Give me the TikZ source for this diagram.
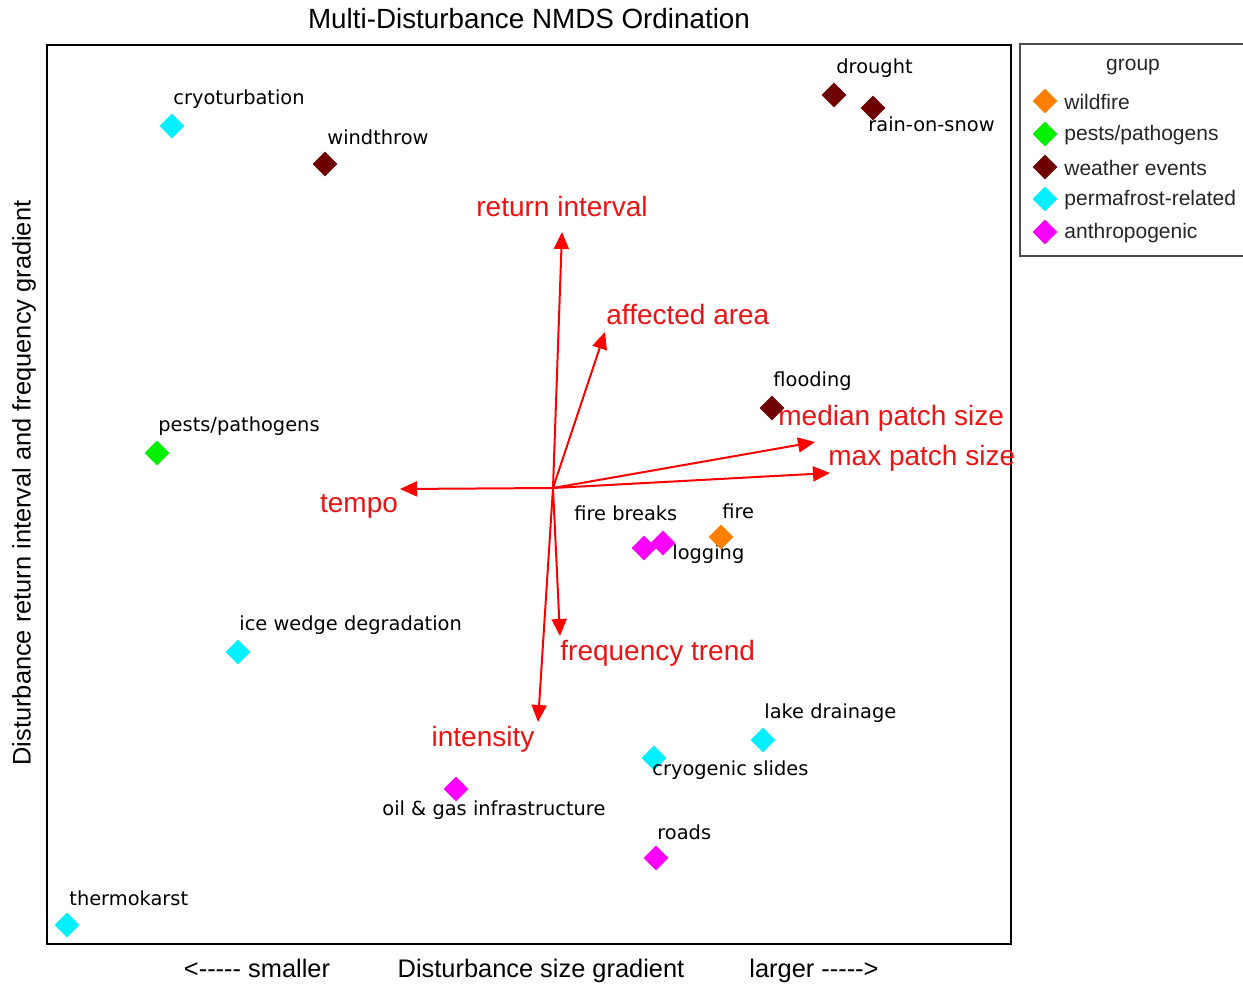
\documentclass[tikz,border=0pt]{standalone}
\usepackage{fontspec}
\setmainfont{Liberation Sans}
\newfontfamily\pix{DejaVu Sans}
\usetikzlibrary{shapes.geometric,arrows.meta}
\definecolor{cwild}{RGB}{255,128,0}
\definecolor{cpest}{RGB}{0,240,0}
\definecolor{cweat}{RGB}{110,0,0}
\definecolor{cperm}{RGB}{0,240,255}
\definecolor{canth}{RGB}{255,0,255}
\definecolor{vred}{RGB}{235,20,20}
\tikzset{
  pt/.style={diamond,fill=#1,draw=none,inner sep=0pt,minimum size=12.5pt},
  plab/.style={font=\pix\fontsize{9.7}{10}\selectfont,anchor=west,inner sep=0pt},
  vec/.style={draw=red,line width=1pt,-{Triangle[length=8.5pt,width=7.5pt]}},
  vlab/.style={font=\fontsize{14}{15}\selectfont,text=vred,inner sep=0pt},
  axlab/.style={font=\fontsize{12.7}{14}\selectfont,inner sep=0pt},
  leglab/.style={font=\fontsize{10.5}{12}\selectfont,anchor=west,inner sep=0pt,text=black!85}
}
\begin{document}
\begin{tikzpicture}[x=0.5pt,y=-0.5pt]
\useasboundingbox (0,0) rectangle (1243,984);
\fill[white] (0,0) rectangle (1243,984);
% title and axes labels
\node[axlab,font=\fontsize{13.9}{15}\selectfont] (title) at (529,19) {Multi-Disturbance NMDS Ordination};
\node[axlab,anchor=base] (xl1) at (257,977) {<-{}-{}-{}-{}- smaller};
\node[axlab,anchor=base] (xl2) at (541,977) {Disturbance size gradient};
\node[axlab,anchor=base] (xl3) at (814,977) {larger -{}-{}-{}-{}->};
\node[axlab,rotate=90] (yl) at (24,483) {Disturbance return interval and frequency gradient};
% frame
\draw[line width=1pt] (47,45) rectangle (1011,944);
% vectors
\coordinate (o) at (553,488);
\coordinate (eRI) at (562,232);
\coordinate (eAA) at (605,332);
\coordinate (eMed) at (815,442);
\coordinate (eMax) at (830,473);
\coordinate (eTe) at (400,489);
\coordinate (eFT) at (560,636);
\coordinate (eIn) at (538,722);
\draw[vec] (o) -- (eRI);
\draw[vec] (o) -- (eAA);
\draw[vec] (o) -- (eMed);
\draw[vec] (o) -- (eMax);
\draw[vec] (o) -- (eTe);
\draw[vec] (o) -- (eFT);
\draw[vec] (o) -- (eIn);
\node[vlab] (lRI) at (562,206) {return interval};
\node[vlab,anchor=west] (lAA) at (606,314) {affected area};
\node[vlab,anchor=west] (lMed) at (778,418) {median patch size};
\node[vlab,anchor=west] (lMax) at (828,458) {max patch size};
\node[vlab] (lTe) at (359,506) {tempo};
\node[vlab,anchor=west] (lFT) at (560,653) {frequency trend};
\node[vlab] (lIn) at (483,739) {intensity};
% points
\node[pt=cperm] (p1) at (172,126) {};
\node[plab] (t1) at (173,99) {cryoturbation};
\node[pt=cweat] (p2) at (325,164) {};
\node[plab] (t2) at (327,137) {windthrow};
\node[pt=cweat] (p3) at (834,95) {};
\node[plab] (t3) at (836,68) {drought};
\node[pt=cweat] (p4) at (873,108) {};
\node[plab] (t4) at (868,124) {rain-on-snow};
\node[pt=cweat] (p5) at (772,408) {};
\node[plab] (t5) at (773,381) {flooding};
\node[pt=cpest] (p6) at (157,453) {};
\node[plab] (t6) at (158,426) {pests/pathogens};
\node[pt=canth] (p7) at (644,548) {};
\node[plab] (t7) at (574,513) {fire breaks};
\node[pt=canth] (p8) at (663,543) {};
\node[plab] (t8) at (672,554) {logging};
\node[pt=cwild] (p9) at (721,537) {};
\node[plab] (t9) at (722,511) {fire};
\node[pt=cperm] (p10) at (238,652) {};
\node[plab] (t10) at (239,625) {ice wedge degradation};
\node[pt=cperm] (p11) at (763,740) {};
\node[plab] (t11) at (764,713) {lake drainage};
\node[pt=cperm] (p12) at (654,758) {};
\node[plab] (t12) at (652,770) {cryogenic slides};
\node[pt=canth] (p13) at (456,789) {};
\node[plab] (t13) at (382,810) {oil \& gas infrastructure};
\node[pt=canth] (p14) at (656,858) {};
\node[plab] (t14) at (657,832) {roads};
\begin{scope}
\clip (47,45) rectangle (1011,944);
\node[pt=cperm] (p15) at (67,925) {};
\end{scope}
\node[plab] (t15) at (69,898) {thermokarst};
% legend
\draw[black!70,line width=0.6pt] (1243,44) -- (1020,44) -- (1020,256) -- (1243,256);
\node[leglab,anchor=center] (lg) at (1133,67) {group};
\node[pt=cwild] (g1) at (1045,101) {};
\node[leglab] (gl1) at (1064,102) {wildfire};
\node[pt=cpest] (g2) at (1045,134) {};
\node[leglab] (gl2) at (1064,135) {pests/pathogens};
\node[pt=cweat] (g3) at (1045,167) {};
\node[leglab] (gl3) at (1064,168) {weather events};
\node[pt=cperm] (g4) at (1045,199) {};
\node[leglab] (gl4) at (1064,200) {permafrost-related};
\node[pt=canth] (g5) at (1045,232) {};
\node[leglab] (gl5) at (1064,233) {anthropogenic};
\end{tikzpicture}
\end{document}
